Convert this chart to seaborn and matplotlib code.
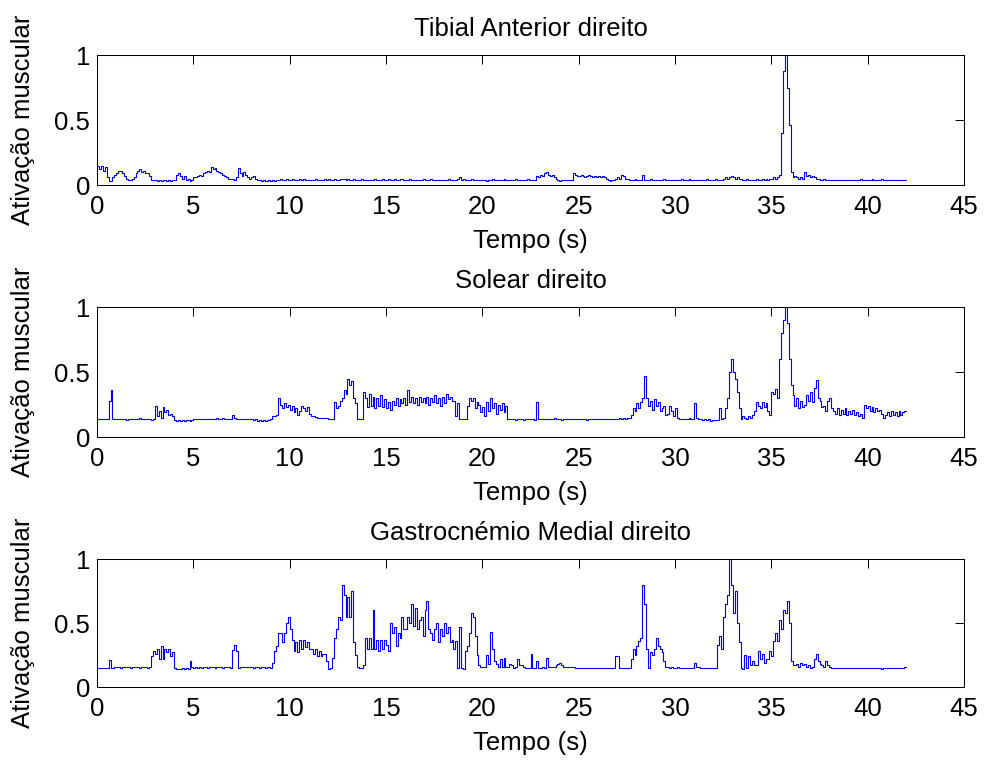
import numpy as np
import pandas as pd
import matplotlib
matplotlib.use("Agg")
import matplotlib.pyplot as plt
import seaborn as sns

titles = ["Tibial Anterior direito", "Solear direito", "Gastrocnémio Medial direito"]
x_label = "Tempo (s)"
y_label = "Ativação muscular"
x_ticks = [0, 5, 10, 15, 20, 25, 30, 35, 40, 45]
y_ticks = [0, 0.5, 1]
y_tick_labels = ["0", "0.5", "1"]
sample_period = 0.1  # s, one value per 0.1 s from 0 to 42 s

tibial = [
    0.15, 0.12, 0.15, 0.11, 0.14, 0.06, 0.03, 0.03, 0.06, 0.08,
    0.09, 0.11, 0.11, 0.09, 0.07, 0.05, 0.04, 0.04, 0.05, 0.06,
    0.09, 0.11, 0.12, 0.10, 0.11, 0.09, 0.09, 0.07, 0.04, 0.035,
    0.035, 0.03, 0.035, 0.03, 0.035, 0.035, 0.03, 0.035, 0.03, 0.035,
    0.035, 0.08, 0.09, 0.07, 0.05, 0.07, 0.04, 0.05, 0.03, 0.04,
    0.06, 0.06, 0.07, 0.08, 0.07, 0.09, 0.10, 0.11, 0.10, 0.14,
    0.12, 0.13, 0.11, 0.10, 0.09, 0.08, 0.07, 0.06, 0.05, 0.05,
    0.05, 0.04, 0.06, 0.13, 0.09, 0.07, 0.10, 0.08, 0.06, 0.05,
    0.06, 0.07, 0.05, 0.04, 0.035, 0.03, 0.035, 0.03, 0.03, 0.035,
    0.03, 0.035, 0.03, 0.04, 0.04, 0.045, 0.04, 0.04, 0.045, 0.04,
    0.04, 0.045, 0.04, 0.035, 0.04, 0.045, 0.04, 0.045, 0.04, 0.04,
    0.04, 0.035, 0.04, 0.045, 0.04, 0.04, 0.035, 0.04, 0.045, 0.04,
    0.05, 0.04, 0.04, 0.045, 0.04, 0.04, 0.05, 0.045, 0.05, 0.04,
    0.045, 0.04, 0.04, 0.045, 0.04, 0.04, 0.04, 0.045, 0.04, 0.04,
    0.04, 0.035, 0.04, 0.04, 0.045, 0.04, 0.04, 0.04, 0.045, 0.04,
    0.04, 0.045, 0.04, 0.04, 0.05, 0.04, 0.04, 0.05, 0.045, 0.04,
    0.04, 0.04, 0.045, 0.04, 0.04, 0.04, 0.035, 0.04, 0.04, 0.045,
    0.04, 0.04, 0.04, 0.045, 0.04, 0.04, 0.04, 0.04, 0.035, 0.04,
    0.04, 0.04, 0.045, 0.04, 0.04, 0.04, 0.04, 0.045, 0.06, 0.04,
    0.045, 0.04, 0.04, 0.04, 0.045, 0.04, 0.04, 0.035, 0.04, 0.04,
    0.035, 0.04, 0.03, 0.04, 0.04, 0.045, 0.04, 0.035, 0.04, 0.04,
    0.04, 0.045, 0.04, 0.04, 0.035, 0.04, 0.04, 0.045, 0.04, 0.04,
    0.035, 0.04, 0.04, 0.045, 0.04, 0.04, 0.04, 0.04, 0.07, 0.06,
    0.08, 0.07, 0.09, 0.10, 0.08, 0.07, 0.08, 0.06, 0.05, 0.04,
    0.03, 0.04, 0.04, 0.035, 0.04, 0.04, 0.04, 0.09, 0.08, 0.07,
    0.07, 0.08, 0.07, 0.06, 0.07, 0.08, 0.07, 0.06, 0.07, 0.06,
    0.07, 0.06, 0.07, 0.06, 0.05, 0.04, 0.03, 0.035, 0.04, 0.05,
    0.06, 0.05, 0.08, 0.07, 0.05, 0.05, 0.04, 0.04, 0.04, 0.045,
    0.04, 0.04, 0.04, 0.075, 0.04, 0.04, 0.04, 0.045, 0.04, 0.04,
    0.04, 0.04, 0.04, 0.04, 0.045, 0.04, 0.04, 0.04, 0.04, 0.04,
    0.035, 0.04, 0.04, 0.045, 0.04, 0.04, 0.04, 0.045, 0.04, 0.04,
    0.04, 0.035, 0.04, 0.04, 0.04, 0.04, 0.045, 0.04, 0.04, 0.04,
    0.04, 0.045, 0.04, 0.04, 0.04, 0.05, 0.06, 0.05, 0.06, 0.07,
    0.06, 0.05, 0.06, 0.05, 0.045, 0.04, 0.04, 0.05, 0.04, 0.035,
    0.04, 0.04, 0.045, 0.04, 0.04, 0.05, 0.04, 0.045, 0.04, 0.05,
    0.05, 0.06, 0.05, 0.06, 0.08, 0.40, 0.88, 1.00, 0.75, 0.46,
    0.10, 0.06, 0.07, 0.06, 0.05, 0.06, 0.05, 0.10, 0.07, 0.08,
    0.06, 0.07, 0.06, 0.05, 0.05, 0.04, 0.04, 0.045, 0.04, 0.04,
    0.04, 0.04, 0.035, 0.04, 0.04, 0.04, 0.04, 0.035, 0.04, 0.04,
    0.04, 0.035, 0.04, 0.04, 0.04, 0.04, 0.045, 0.04, 0.035, 0.04,
    0.04, 0.04, 0.045, 0.04, 0.035, 0.04, 0.04, 0.05, 0.04, 0.04,
    0.035, 0.04, 0.04, 0.04, 0.04, 0.035, 0.04, 0.04, 0.04, 0.04,
    0.04,
]

solear = [
    0.14, 0.14, 0.14, 0.14, 0.14, 0.14, 0.28, 0.36, 0.14, 0.14,
    0.14, 0.14, 0.135, 0.14, 0.14, 0.13, 0.14, 0.14, 0.14, 0.14,
    0.14, 0.14, 0.145, 0.14, 0.14, 0.14, 0.14, 0.14, 0.13, 0.14,
    0.24, 0.16, 0.20, 0.15, 0.23, 0.19, 0.21, 0.17, 0.18, 0.16,
    0.13, 0.125, 0.13, 0.12, 0.13, 0.125, 0.13, 0.13, 0.125, 0.13,
    0.14, 0.14, 0.135, 0.14, 0.14, 0.14, 0.135, 0.14, 0.14, 0.14,
    0.14, 0.14, 0.145, 0.14, 0.14, 0.145, 0.14, 0.14, 0.14, 0.14,
    0.17, 0.15, 0.14, 0.14, 0.14, 0.135, 0.14, 0.14, 0.14, 0.14,
    0.14, 0.13, 0.14, 0.125, 0.13, 0.125, 0.13, 0.125, 0.13, 0.13,
    0.14, 0.16, 0.16, 0.17, 0.30, 0.25, 0.22, 0.26, 0.23, 0.25,
    0.21, 0.24, 0.19, 0.22, 0.17, 0.20, 0.24, 0.22, 0.20, 0.23,
    0.18, 0.16, 0.16, 0.155, 0.15, 0.15, 0.15, 0.15, 0.145, 0.145,
    0.14, 0.14, 0.135, 0.27, 0.22, 0.24, 0.28, 0.30, 0.36, 0.33,
    0.45, 0.40, 0.43, 0.30, 0.26, 0.14, 0.14, 0.14, 0.35, 0.30,
    0.23, 0.33, 0.24, 0.31, 0.22, 0.30, 0.24, 0.32, 0.23, 0.29,
    0.22, 0.27, 0.21, 0.28, 0.25, 0.30, 0.24, 0.29, 0.26, 0.30,
    0.25, 0.36, 0.27, 0.31, 0.26, 0.30, 0.25, 0.31, 0.27, 0.30,
    0.26, 0.31, 0.25, 0.30, 0.27, 0.32, 0.26, 0.30, 0.24, 0.31,
    0.26, 0.33, 0.29, 0.31, 0.28, 0.28, 0.16, 0.26, 0.14, 0.14,
    0.14, 0.14, 0.24, 0.30, 0.28, 0.30, 0.22, 0.27, 0.25, 0.19,
    0.23, 0.16, 0.27, 0.20, 0.30, 0.22, 0.26, 0.18, 0.25, 0.21,
    0.26, 0.19, 0.24, 0.14, 0.14, 0.135, 0.14, 0.13, 0.14, 0.14,
    0.135, 0.13, 0.14, 0.14, 0.135, 0.14, 0.14, 0.13, 0.27, 0.14,
    0.14, 0.14, 0.14, 0.135, 0.14, 0.14, 0.14, 0.145, 0.14, 0.14,
    0.14, 0.13, 0.14, 0.14, 0.14, 0.135, 0.14, 0.14, 0.14, 0.14,
    0.135, 0.14, 0.14, 0.14, 0.13, 0.14, 0.14, 0.14, 0.135, 0.14,
    0.14, 0.14, 0.14, 0.14, 0.14, 0.135, 0.14, 0.14, 0.14, 0.14,
    0.14, 0.15, 0.14, 0.15, 0.14, 0.15, 0.15, 0.17, 0.22, 0.20,
    0.26, 0.22, 0.27, 0.30, 0.47, 0.30, 0.24, 0.28, 0.21, 0.29,
    0.24, 0.27, 0.20, 0.22, 0.24, 0.17, 0.18, 0.24, 0.20, 0.16,
    0.22, 0.15, 0.14, 0.14, 0.14, 0.14, 0.14, 0.145, 0.14, 0.14,
    0.26, 0.15, 0.14, 0.14, 0.13, 0.14, 0.13, 0.14, 0.12, 0.13,
    0.13, 0.13, 0.13, 0.22, 0.14, 0.15, 0.22, 0.30, 0.50, 0.60,
    0.50, 0.45, 0.35, 0.22, 0.14, 0.16, 0.15, 0.14, 0.16, 0.15,
    0.17, 0.20, 0.27, 0.24, 0.22, 0.27, 0.23, 0.26, 0.20, 0.17,
    0.35, 0.33, 0.37, 0.30, 0.60, 0.80, 0.90, 1.00, 0.88, 0.60,
    0.40, 0.32, 0.24, 0.30, 0.22, 0.28, 0.23, 0.25, 0.32, 0.28,
    0.35, 0.27, 0.38, 0.44, 0.30, 0.28, 0.23, 0.24, 0.20, 0.28,
    0.30, 0.22, 0.20, 0.18, 0.22, 0.17, 0.21, 0.18, 0.22, 0.17,
    0.20, 0.18, 0.21, 0.17, 0.19, 0.16, 0.18, 0.15, 0.25, 0.22,
    0.24, 0.20, 0.23, 0.19, 0.22, 0.20, 0.21, 0.18, 0.15, 0.17,
    0.19, 0.16, 0.20, 0.17, 0.19, 0.16, 0.20, 0.17, 0.19, 0.20,
    0.20,
]

gastrocnemio = [
    0.15, 0.15, 0.15, 0.15, 0.15, 0.15, 0.21, 0.15, 0.15, 0.155,
    0.155, 0.155, 0.15, 0.155, 0.155, 0.155, 0.155, 0.15, 0.155, 0.155,
    0.155, 0.155, 0.15, 0.155, 0.155, 0.155, 0.15, 0.155, 0.24, 0.28,
    0.26, 0.30, 0.22, 0.32, 0.22, 0.30, 0.27, 0.30, 0.24, 0.27,
    0.15, 0.14, 0.14, 0.14, 0.145, 0.14, 0.145, 0.14, 0.20, 0.16,
    0.15, 0.155, 0.15, 0.155, 0.15, 0.155, 0.155, 0.15, 0.155, 0.155,
    0.155, 0.15, 0.155, 0.155, 0.155, 0.15, 0.155, 0.155, 0.155, 0.15,
    0.29, 0.33, 0.28, 0.15, 0.155, 0.155, 0.155, 0.155, 0.155, 0.155,
    0.155, 0.15, 0.155, 0.155, 0.15, 0.155, 0.155, 0.15, 0.155, 0.155,
    0.15, 0.19, 0.28, 0.32, 0.42, 0.42, 0.35, 0.42, 0.50, 0.55,
    0.45, 0.37, 0.28, 0.35, 0.27, 0.37, 0.30, 0.37, 0.31, 0.35,
    0.30, 0.30, 0.26, 0.30, 0.24, 0.28, 0.24, 0.26, 0.26, 0.20,
    0.14, 0.15, 0.23, 0.38, 0.45, 0.55, 0.52, 0.80, 0.72, 0.55,
    0.70, 0.55, 0.75, 0.35, 0.25, 0.16, 0.15, 0.15, 0.17, 0.38,
    0.30, 0.38, 0.30, 0.60, 0.30, 0.37, 0.28, 0.37, 0.30, 0.37,
    0.33, 0.28, 0.50, 0.42, 0.47, 0.32, 0.42, 0.38, 0.55, 0.45,
    0.45, 0.55, 0.50, 0.65, 0.48, 0.62, 0.45, 0.52, 0.55, 0.40,
    0.60, 0.67, 0.45, 0.42, 0.37, 0.45, 0.50, 0.35, 0.45, 0.40,
    0.50, 0.42, 0.47, 0.35, 0.37, 0.30, 0.36, 0.15, 0.47, 0.15,
    0.14, 0.28, 0.32, 0.42, 0.58, 0.55, 0.40, 0.25, 0.17, 0.16,
    0.16, 0.16, 0.25, 0.18, 0.43, 0.30, 0.20, 0.18, 0.16, 0.22,
    0.16, 0.23, 0.16, 0.16, 0.18, 0.17, 0.15, 0.16, 0.22, 0.17,
    0.17, 0.16, 0.15, 0.15, 0.15, 0.26, 0.15, 0.15, 0.20, 0.15,
    0.15, 0.155, 0.15, 0.23, 0.16, 0.16, 0.155, 0.16, 0.17, 0.18,
    0.19, 0.17, 0.16, 0.16, 0.16, 0.155, 0.16, 0.155, 0.15, 0.15,
    0.15, 0.15, 0.15, 0.145, 0.15, 0.15, 0.15, 0.15, 0.145, 0.15,
    0.15, 0.15, 0.15, 0.15, 0.145, 0.15, 0.15, 0.15, 0.15, 0.24,
    0.24, 0.15, 0.15, 0.15, 0.15, 0.15, 0.15, 0.22, 0.30, 0.25,
    0.32, 0.36, 0.38, 0.80, 0.65, 0.30, 0.15, 0.27, 0.25, 0.30,
    0.38, 0.32, 0.30, 0.27, 0.20, 0.16, 0.16, 0.15, 0.16, 0.15,
    0.15, 0.155, 0.15, 0.15, 0.15, 0.15, 0.145, 0.15, 0.15, 0.15,
    0.19, 0.16, 0.16, 0.15, 0.15, 0.15, 0.15, 0.15, 0.15, 0.15,
    0.15, 0.15, 0.33, 0.40, 0.30, 0.55, 0.65, 0.72, 1.00, 0.80,
    0.58, 0.75, 0.50, 0.35, 0.15, 0.14, 0.25, 0.15, 0.24, 0.17,
    0.20, 0.17, 0.17, 0.28, 0.22, 0.26, 0.19, 0.22, 0.22, 0.28,
    0.24, 0.36, 0.42, 0.36, 0.52, 0.45, 0.60, 0.58, 0.67, 0.50,
    0.20, 0.17, 0.17, 0.18, 0.16, 0.19, 0.17, 0.18, 0.16, 0.17,
    0.15, 0.16, 0.22, 0.26, 0.20, 0.18, 0.17, 0.16, 0.20, 0.17,
    0.16, 0.15, 0.15, 0.15, 0.15, 0.15, 0.15, 0.15, 0.15, 0.15,
    0.15, 0.145, 0.15, 0.15, 0.15, 0.15, 0.15, 0.15, 0.145, 0.15,
    0.15, 0.15, 0.15, 0.15, 0.15, 0.15, 0.15, 0.14, 0.15, 0.15,
    0.15, 0.15, 0.15, 0.15, 0.15, 0.15, 0.15, 0.15, 0.15, 0.16,
    0.16,
]

series = [tibial, solear, gastrocnemio]

sns.set_theme(style="white")
plt.rcParams["font.family"] = ["Liberation Sans", "DejaVu Sans"]
plt.rcParams["axes.edgecolor"] = "black"
plt.rcParams["axes.linewidth"] = 0.75

FS = 18.5
fig = plt.figure(figsize=(9.86, 7.62), dpi=100, facecolor="white")
positions = [
    [0.0984, 0.7572, 0.8793, 0.1706],
    [0.0984, 0.4265, 0.8793, 0.1706],
    [0.0984, 0.0984, 0.8793, 0.1680],
]

for title, values, pos in zip(titles, series, positions):
    n = len(values)
    df = pd.DataFrame({"t": np.arange(n) * sample_period, "v": values})
    ax = fig.add_axes(pos)
    sns.lineplot(data=df, x="t", y="v", ax=ax, color="#0000ff", linewidth=0.8,
                 drawstyle="steps-post", estimator=None, sort=False)
    ax.set_xlim(0, 45)
    ax.set_ylim(0, 1)
    ax.set_xticks(x_ticks)
    ax.set_xticklabels([str(v) for v in x_ticks])
    ax.set_yticks(y_ticks)
    ax.set_yticklabels(y_tick_labels)
    ax.tick_params(direction="in", length=6.5, width=0.7, colors="black",
                   top=True, right=True, labelsize=FS, pad=7)
    ax.tick_params(axis="y", pad=5)
    for s in ax.spines.values():
        s.set_visible(True)
        s.set_color("black")
        s.set_linewidth(0.75)
    ax.set_title(title, fontsize=FS, pad=14, color="black")
    ax.set_xlabel(x_label, fontsize=FS, color="black")
    ax.set_ylabel(y_label, fontsize=FS, color="black")
    ax.xaxis.set_label_coords(0.5, -0.34)
    ax.yaxis.set_label_coords(-0.0715, 0.5)
    ax.set_facecolor("white")

fig.savefig("out.png", dpi=100, facecolor="white")
